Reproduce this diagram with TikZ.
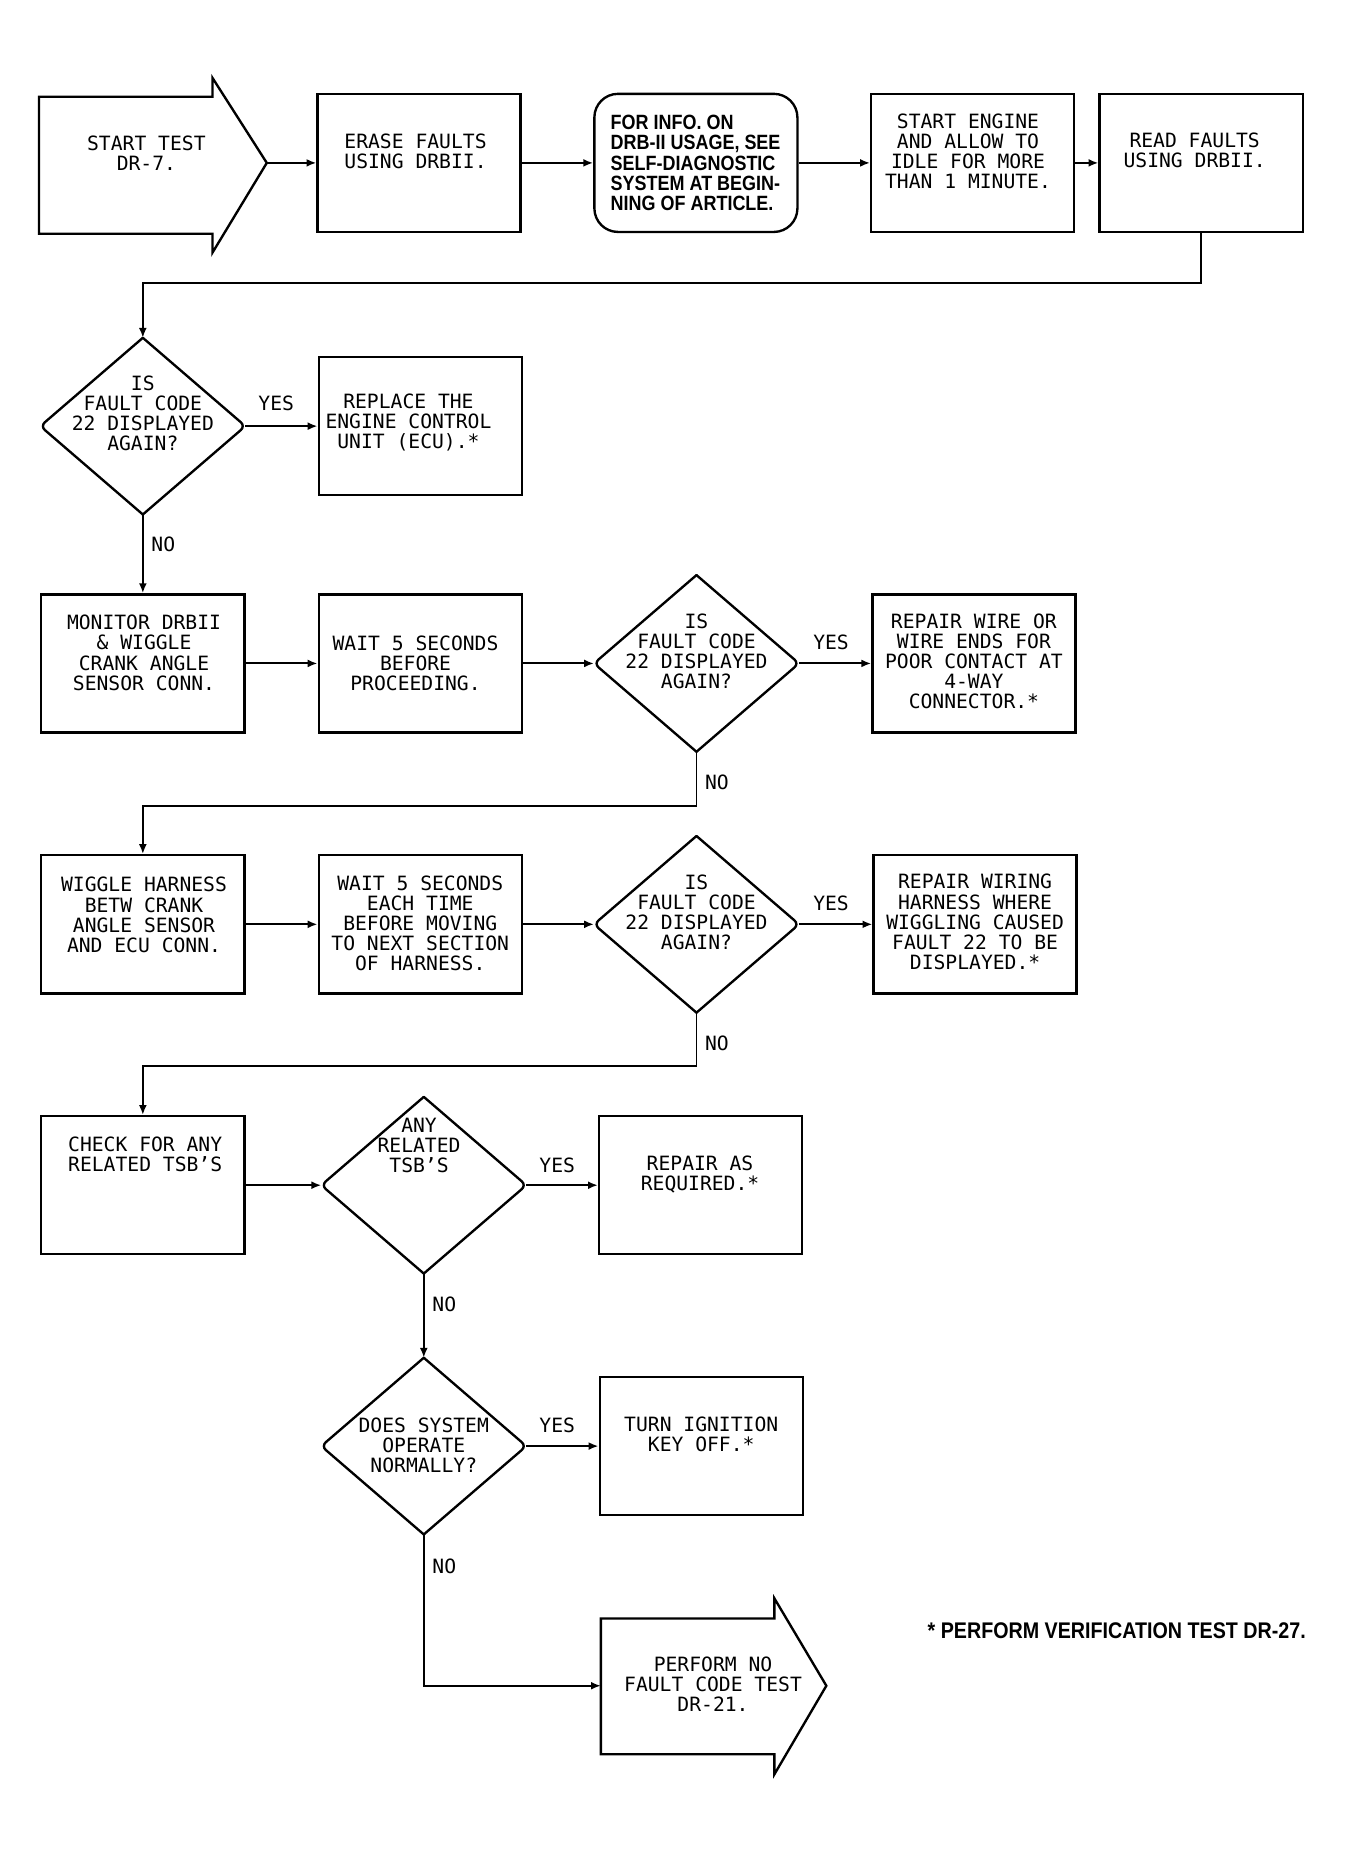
\documentclass[tikz,border=0pt]{standalone}
\usepackage{fontspec}
\setmainfont{DejaVu Sans Mono}
\newfontfamily\infofont[FakeStretch=0.87]{Liberation Sans}
\usetikzlibrary{arrows.meta,shapes.geometric}
\begin{document}
\begin{tikzpicture}[x=0.6pt,y=-0.6pt,
  txt/.style={font=\fontsize{10pt}{10.2pt}\selectfont, align=center, inner sep=0pt},
  infotxt/.style={font=\infofont\bfseries\fontsize{10.5pt}{10.2pt}\selectfont, align=left, inner sep=0pt},
  lbl/.style={font=\fontsize{10pt}{10.2pt}\selectfont, inner sep=0pt},
  box/.style={draw, line width=1.2pt, minimum width=103.2pt, minimum height=70.2pt, inner sep=0pt},
  dia/.style={shape=diamond, minimum width=103.8pt, minimum height=89.4pt, inner sep=0pt},
  dline/.style={line width=1.2pt, rounded corners=3pt, line cap=round},
  outline/.style={line width=1.2pt, line join=miter},
  conn/.style={line width=1pt},
  arr/.style={conn, -{Latex[length=5pt,width=4pt]}}]
\useasboundingbox (0,0) rectangle (1142,1568);

% ---------- row 1 ----------
\draw[outline] (33,82) -- (180,82) -- (180,66) -- (226,138) -- (180,214) -- (180,198) -- (33,198) -- cycle;
\node[txt] (startt) at (124,130) {START TEST\\DR-7.};
\coordinate (starttip) at (226,138);

\node[box] (erase) at (355,138) {};
\node[txt] (eraset) at (352,128) {ERASE FAULTS\\USING DRBII.};

\node[box, rounded corners=12pt] (info) at (589.5,138) {};
\node[infotxt, anchor=west] (infot) at (517,138) {FOR INFO. ON\\DRB-II USAGE, SEE\\SELF-DIAGNOSTIC\\SYSTEM AT BEGIN-\\NING OF ARTICLE.};

\node[box] (engine) at (824,138) {};
\node[txt] (enginet) at (820,128) {START ENGINE\\AND ALLOW TO\\IDLE FOR MORE\\THAN 1 MINUTE.};

\node[box] (read) at (1017.5,138) {};
\node[txt] (readt) at (1012,127) {READ FAULTS\\USING DRBII.};

\draw[arr] (starttip) -- (erase.west);
\draw[arr] (erase.east) -- (info.west);
\draw[arr] (info.east) -- (engine.west);
\draw[arr] (engine.east) -- (read.west);

% ---------- row 2 ----------
\node[dia] (d1) at (121,361) {};
\draw[dline] (d1.north) -- (d1.east) -- (d1.south);
\draw[dline] (d1.south) -- (d1.west) -- (d1.north);
\node[txt] (d1t) at (121,350) {IS\\FAULT CODE\\22 DISPLAYED\\AGAIN?};

\node[box] (replace) at (356,361) {};
\node[txt] (replacet) at (346,358) {REPLACE THE\\ENGINE CONTROL\\UNIT (ECU).*};

\draw[arr] (read.south) -- ++(0,42) -| (d1.north);
\draw[arr] (d1.east) -- (replace.west);
\node[lbl] (y1) at (234,342) {YES};

% ---------- row 3 ----------
\node[box] (monitor) at (121,562) {};
\node[txt] (monitort) at (122,553) {MONITOR DRBII\\\& WIGGLE\\CRANK ANGLE\\SENSOR CONN.};

\node[box] (wait1) at (356,562) {};
\node[txt] (wait1t) at (352,562) {WAIT 5 SECONDS\\BEFORE\\PROCEEDING.};

\node[dia] (d2) at (590,562) {};
\draw[dline] (d2.north) -- (d2.east) -- (d2.south);
\draw[dline] (d2.south) -- (d2.west) -- (d2.north);
\node[txt] (d2t) at (590,552) {IS\\FAULT CODE\\22 DISPLAYED\\AGAIN?};

\node[box] (repair1) at (825,562) {};
\node[txt] (repair1t) at (825,560) {REPAIR WIRE OR\\WIRE ENDS FOR\\POOR CONTACT AT\\4-WAY\\CONNECTOR.*};

\draw[arr] (d1.south) -- (monitor.north);
\node[lbl, anchor=west] (n1) at (128,461) {NO};
\draw[arr] (monitor.east) -- (wait1.west);
\draw[arr] (wait1.east) -- (d2.west);
\draw[arr] (d2.east) -- (repair1.west);
\node[lbl] (y2) at (704,544) {YES};

% ---------- row 4 ----------
\node[box] (wiggle) at (121,783) {};
\node[txt] (wigglet) at (122,775) {WIGGLE HARNESS\\BETW CRANK\\ANGLE SENSOR\\AND ECU CONN.};

\node[box] (wait2) at (356,783) {};
\node[txt] (wait2t) at (356,782) {WAIT 5 SECONDS\\EACH TIME\\BEFORE MOVING\\TO NEXT SECTION\\OF HARNESS.};

\node[dia] (d3) at (590,783) {};
\draw[dline] (d3.north) -- (d3.east) -- (d3.south);
\draw[dline] (d3.south) -- (d3.west) -- (d3.north);
\node[txt] (d3t) at (590,773) {IS\\FAULT CODE\\22 DISPLAYED\\AGAIN?};

\node[box] (repair2) at (826,783) {};
\node[txt] (repair2t) at (826,781) {REPAIR WIRING\\HARNESS WHERE\\WIGGLING CAUSED\\FAULT 22 TO BE\\DISPLAYED.*};

\draw[arr] (d2.south) -- ++(0,46) -| (wiggle.north);
\node[lbl, anchor=west] (n2) at (597,663) {NO};
\draw[arr] (wiggle.east) -- (wait2.west);
\draw[arr] (wait2.east) -- (d3.west);
\draw[arr] (d3.east) -- (repair2.west);
\node[lbl] (y3) at (704,765) {YES};

% ---------- row 5 ----------
\node[box] (check) at (121,1004) {};
\node[txt] (checkt) at (123,978) {CHECK FOR ANY\\RELATED TSB'S};

\node[dia] (d4) at (359,1004) {};
\draw[dline] (d4.north) -- (d4.east) -- (d4.south);
\draw[dline] (d4.south) -- (d4.west) -- (d4.north);
\node[txt] (d4t) at (355,970) {ANY\\RELATED\\TSB'S};

\node[box] (repair3) at (593.5,1004) {};
\node[txt] (repair3t) at (593,995) {REPAIR AS\\REQUIRED.*};

\draw[arr] (d3.south) -- ++(0,45) -| (check.north);
\node[lbl, anchor=west] (n3) at (597,884) {NO};
\draw[arr] (check.east) -- (d4.west);
\draw[arr] (d4.east) -- (repair3.west);
\node[lbl] (y4) at (472,987) {YES};

% ---------- row 6 ----------
\node[dia] (d5) at (359,1225) {};
\draw[dline] (d5.north) -- (d5.east) -- (d5.south);
\draw[dline] (d5.south) -- (d5.west) -- (d5.north);
\node[txt] (d5t) at (359,1224) {DOES SYSTEM\\OPERATE\\NORMALLY?};

\node[box] (turn) at (594,1225) {};
\node[txt] (turnt) at (594,1215) {TURN IGNITION\\KEY OFF.*};

\draw[arr] (d4.south) -- (d5.north);
\node[lbl, anchor=west] (n4) at (366,1105) {NO};
\draw[arr] (d5.east) -- (turn.west);
\node[lbl] (y5) at (472,1207) {YES};

% ---------- row 7 ----------
\draw[outline] (509,1371) -- (656,1371) -- (656,1354) -- (700,1428) -- (656,1503) -- (656,1486) -- (509,1486) -- cycle;
\node[txt] (endt) at (604,1427) {PERFORM NO\\FAULT CODE TEST\\DR-21.};
\coordinate (endin) at (509,1428);

\draw[arr] (d5.south) |- (endin);
\node[lbl, anchor=west] (n5) at (366,1327) {NO};

\node[font=\infofont\bfseries\fontsize{11.5pt}{12pt}\selectfont, inner sep=0pt] (foot) at (946,1381) {* PERFORM VERIFICATION TEST DR-27.};
\end{tikzpicture}
\end{document}
